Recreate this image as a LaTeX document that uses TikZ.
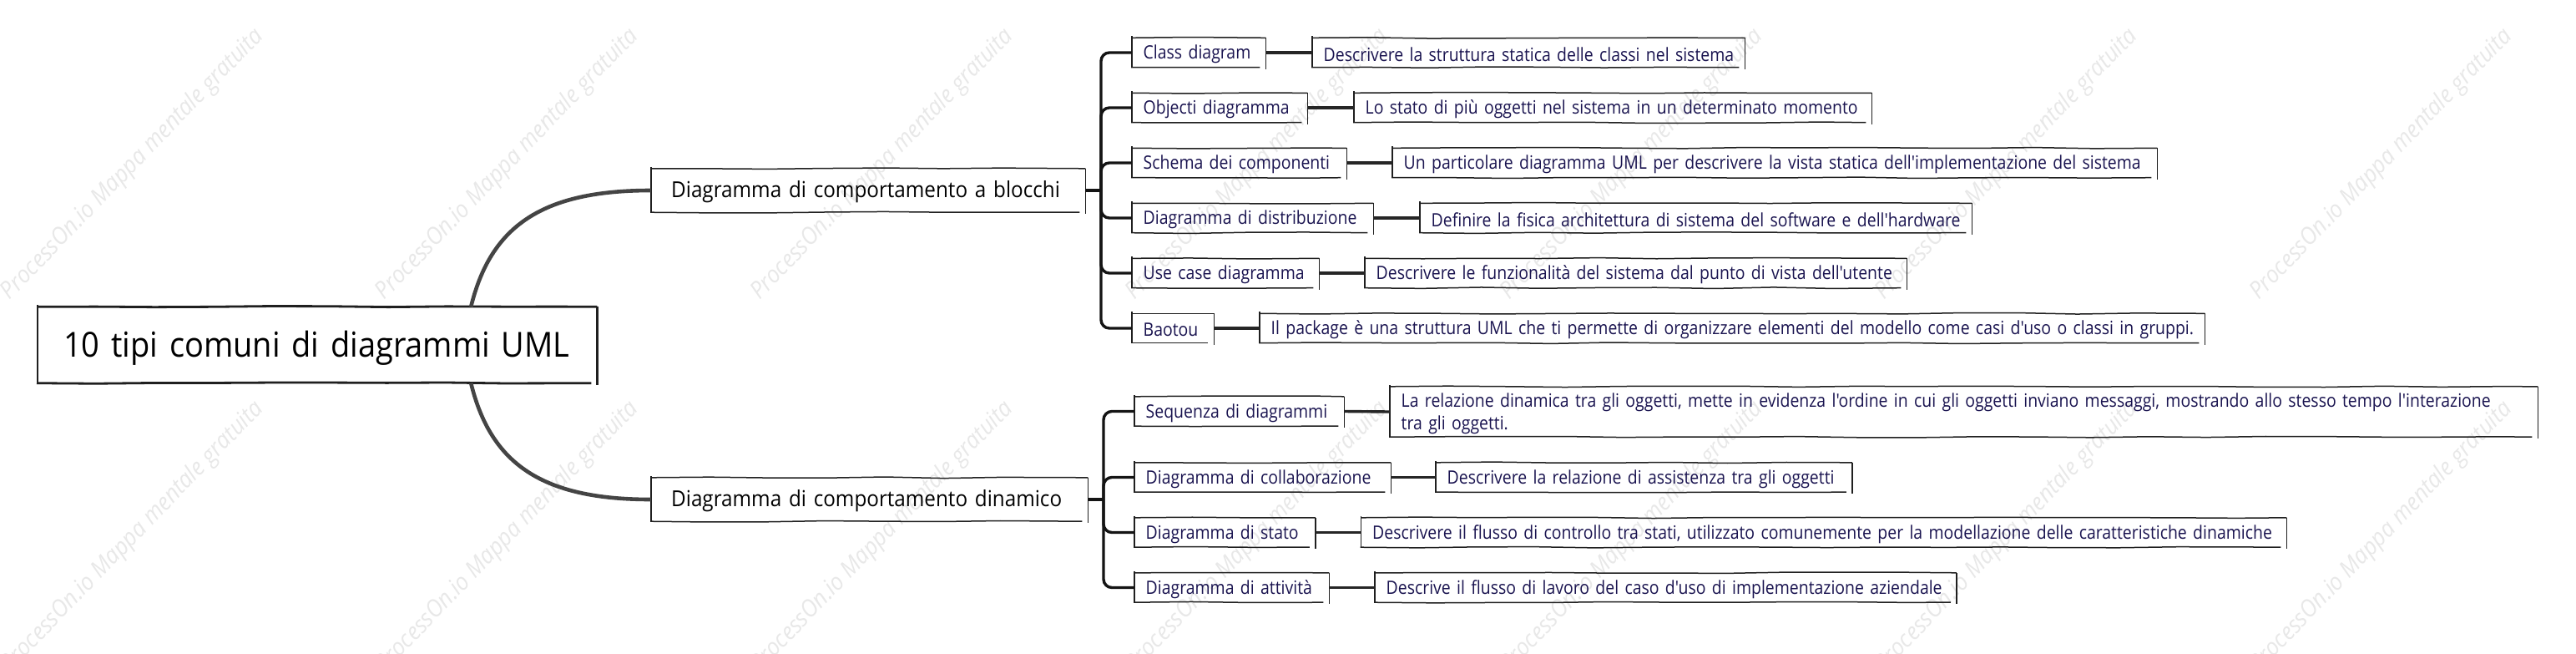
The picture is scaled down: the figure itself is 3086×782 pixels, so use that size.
\documentclass[tikz,border=0pt]{standalone}
\usepackage{fontspec}
\setmainfont[FakeStretch=0.92]{Open Sans}
\newfontfamily\subf[FakeStretch=0.884]{Open Sans}
\usetikzlibrary{decorations.pathmorphing,calc}
\definecolor{navytext}{HTML}{1A1450}
\definecolor{wmark}{HTML}{E8E8E8}
\definecolor{curvecol}{HTML}{444444}
\newcommand{\dropv}{2pt}
\newcommand{\oneline}[1]{\raisebox{-\dropv}[\height][\depth]{#1}}
\tikzset{
  x=1pt,y=-1pt,
  skline/.style={draw=black!88,decorate,decoration={random steps,segment length=70pt,amplitude=0.8pt}},
  sketchbox/.style={inner ysep=0pt,anchor=west,align=left,
    append after command={
      (\tikzlastnode.north west) edge[skline,line width=#1] (\tikzlastnode.north east)
      (\tikzlastnode.north east) edge[skline,line width=#1] ([yshift=-2pt]\tikzlastnode.south east)
      ([xshift=-1pt]\tikzlastnode.south west) edge[skline,line width=#1] ([xshift=-7pt]\tikzlastnode.south east)
      ([yshift=2pt]\tikzlastnode.north west) edge[skline,line width=#1] (\tikzlastnode.south west)
    }},
  rootbox/.style={sketchbox=2.8pt,inner xsep=31pt,minimum height=91pt,font=\fontsize{41.3}{48}\selectfont,text width=#1-62pt,execute at begin node=\renewcommand{\dropv}{4pt}},
  mainbox/.style={sketchbox=1.5pt,inner xsep=24pt,minimum height=52pt,font=\fontsize{26.35}{34}\selectfont,text width=#1-48pt},
  subbox/.style={sketchbox=1.5pt,inner xsep=13.5pt,minimum height=35pt,text=navytext,font=\subf\fontsize{22}{27}\selectfont,text width=#1-27pt},
  trunkline/.style={line width=3.4pt,black!92,rounded corners=10pt},
  stubline/.style={line width=4pt,black!92},
  linkline/.style={line width=3.4pt,black!85},
  bigcurve/.style={line width=4.6pt,curvecol},
  wm/.style={text=wmark,rotate=46,font=\fontsize{28.5}{30}\selectfont\itshape},
}
\begin{document}
\begin{tikzpicture}
\useasboundingbox (0,0) rectangle (3086,782);
\fill[white] (0,0) rectangle (3086,782);
% watermark
\foreach \i/\xc in {1/159,2/608,3/1057,4/1506,5/1955,6/2404,7/2853}{
  \node[wm] (wma\i) at (\xc,197) {ProcessOn.io Mappa mentale gratuita};
  \node[wm] (wmb\i) at (\xc,643) {ProcessOn.io Mappa mentale gratuita};
}
\pgfmathsetseed{7}
% root and main branches
\node[rootbox=670pt] (root) at (45,413) {\oneline{10 tipi comuni di diagrammi UML}};
\node[mainbox=520pt] (ma) at (780,228) {\oneline{Diagramma di comportamento a blocchi}};
\node[mainbox=523pt] (mb) at (780,598) {\oneline{Diagramma di comportamento dinamico}};
% first group
\node[subbox=160pt] (c1) at (1356,63) {\oneline{Class diagram}};
\node[subbox=210pt] (c2) at (1356,129) {\oneline{Objecti diagramma}};
\node[subbox=257pt] (c3) at (1356,195) {\oneline{Schema dei componenti}};
\node[subbox=289pt] (c4) at (1356,261) {\oneline{Diagramma di distribuzione}};
\node[subbox=224pt] (c5) at (1356,327) {\oneline{Use case diagramma}};
\node[subbox=98pt] (c6) at (1356,393) {\oneline{Baotou}};
\node[subbox=518pt] (d1) at (1572,63) {\oneline{Descrivere la struttura statica delle classi nel sistema}};
\node[subbox=620pt] (d2) at (1622,129) {\oneline{Lo stato di più oggetti nel sistema in un determinato momento}};
\node[subbox=916pt] (d3) at (1668,195) {\oneline{Un particolare diagramma UML per descrivere la vista statica dell'implementazione del sistema}};
\node[subbox=661pt] (d4) at (1701,261) {\oneline{Definire la fisica architettura di sistema del software e dell'hardware}};
\node[subbox=649pt] (d5) at (1635,327) {\oneline{Descrivere le funzionalità del sistema dal punto di vista dell'utente}};
\node[subbox=1132pt] (d6) at (1509,393) {\oneline{Il package è una struttura UML che ti permette di organizzare elementi del modello come casi d'uso o classi in gruppi.}};
% second group
\node[subbox=251pt] (e1) at (1359,492.5) {\oneline{Sequenza di diagrammi}};
\node[subbox=307pt] (e2) at (1359,571.5) {\oneline{Diagramma di collaborazione}};
\node[subbox=216.5pt] (e3) at (1359,637.5) {\oneline{Diagramma di stato}};
\node[subbox=233pt] (e4) at (1359,703.5) {\oneline{Diagramma di attività}};
\node[subbox=1375pt,minimum height=60pt] (f1) at (1665,493) {\oneline{La relazione dinamica tra gli oggetti, mette in evidenza l'ordine in cui gli oggetti inviano messaggi, mostrando allo stesso tempo l'interazione}\\\oneline{tra gli oggetti.}};
\node[subbox=498.5pt] (f2) at (1720,571.5) {\oneline{Descrivere la relazione di assistenza tra gli oggetti}};
\node[subbox=1108.5pt] (f3) at (1630.5,637.5) {\oneline{Descrivere il flusso di controllo tra stati, utilizzato comunemente per la modellazione delle caratteristiche dinamiche}};
\node[subbox=696.5pt] (f4) at (1647,703.5) {\oneline{Descrive il flusso di lavoro del caso d'uso di implementazione aziendale}};
% curves from the root
\draw[bigcurve] ([xshift=184pt]root.north) .. controls (588,270) and (650,228) .. (ma.west);
\draw[bigcurve] ([xshift=184pt]root.south) .. controls (588,556) and (650,598) .. (mb.west);
% forks
\coordinate (ta) at (1319,228);
\coordinate (tb) at (1322,598);
\draw[stubline] (ma.east) -- (ta);
\draw[stubline] (mb.east) -- (tb);
\foreach \n in {c1,c2,c3,c4,c5,c6}{ \draw[trunkline] (ta) |- (\n.west); }
\foreach \n in {e1,e2,e3,e4}{ \draw[trunkline] (tb) |- (\n.west); }
% links
\foreach \a/\b in {c1/d1,c2/d2,c3/d3,c4/d4,c5/d5,c6/d6,e1/f1,e2/f2,e3/f3,e4/f4}{ \draw[linkline] (\a.east) -- (\b.west); }
\end{tikzpicture}
\end{document}
